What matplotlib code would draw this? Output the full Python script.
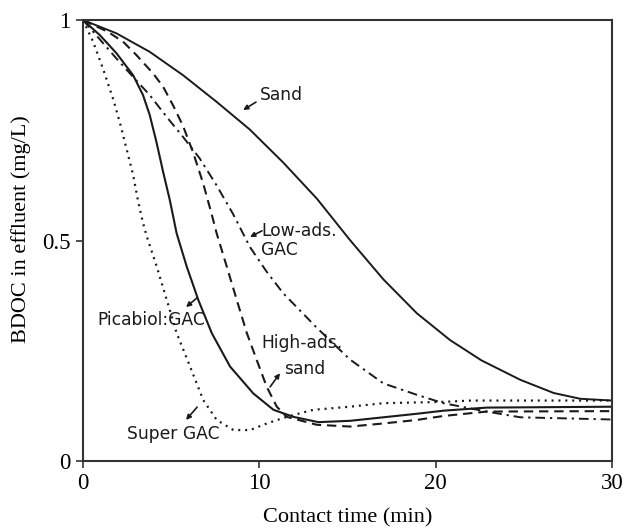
import matplotlib.pyplot as plt

# Contact time (min) and BDOC (mg/L) for each filter medium
sand_t = [0, 1.89, 3.78, 5.67, 7.56, 9.45, 11.35, 13.26, 15.14, 17.03, 18.93,
          20.82, 22.6, 24.8, 26.7, 28.2, 30]
sand_c = [1.0, 0.970, 0.928, 0.875, 0.815, 0.752, 0.677, 0.595, 0.501, 0.412, 0.335,
          0.274, 0.228, 0.184, 0.154, 0.141, 0.137]

low_gac_t = [0, 1.89, 2.84, 3.78, 4.73, 5.67, 6.62, 7.56, 8.51, 9.47, 10.4, 11.36,
             13.26, 15.14, 17.03, 18.93, 20.44, 22.9, 24.8, 30]
low_gac_c = [1.0, 0.913, 0.871, 0.830, 0.781, 0.735, 0.686, 0.626, 0.560, 0.485, 0.430, 0.380,
             0.302, 0.230, 0.176, 0.150, 0.131, 0.112, 0.099, 0.094]

high_sand_t = [0, 1.42, 2.27, 3.02, 3.97, 4.54, 5.10, 5.67, 6.24, 6.81, 7.28, 7.58, 8.15,
               8.72, 9.29, 9.85, 10.42, 10.99, 11.55, 13.26, 15.14, 17.03, 18.93, 20.44,
               22.9, 30]
high_sand_c = [1.0, 0.973, 0.951, 0.921, 0.879, 0.849, 0.807, 0.760, 0.700, 0.630, 0.562,
               0.516, 0.441, 0.365, 0.290, 0.229, 0.168, 0.123, 0.100, 0.082, 0.078, 0.085,
               0.093, 0.102, 0.112, 0.113]

picabiol_t = [0, 0.95, 1.89, 2.84, 3.40, 3.78, 4.16, 4.54, 4.92, 5.31, 5.88, 6.54, 7.3,
              8.34, 9.66, 10.8, 11.93, 13.35, 15.14, 17.03, 18.93, 20.44, 22.9, 30]
picabiol_c = [1.0, 0.966, 0.925, 0.875, 0.830, 0.785, 0.724, 0.656, 0.592, 0.516, 0.441,
              0.365, 0.290, 0.214, 0.153, 0.116, 0.100, 0.088, 0.091, 0.099, 0.107, 0.114,
              0.121, 0.123]

super_gac_t = [0, 0.57, 1.13, 1.70, 2.08, 2.46, 2.84, 3.12, 3.40, 3.61, 4.18, 4.75, 5.31,
               6.07, 6.82, 7.58, 8.53, 9.47, 10.42, 11.55, 13.06, 15.14, 17.03, 20.44, 22.0, 30]
super_gac_c = [1.0, 0.951, 0.890, 0.822, 0.769, 0.709, 0.649, 0.590, 0.540, 0.510, 0.441,
               0.365, 0.290, 0.214, 0.138, 0.093, 0.070, 0.070, 0.085, 0.100, 0.116, 0.123,
               0.131, 0.134, 0.137, 0.137]

x_ticks = [0, 10, 20, 30]
y_ticks = [0, 0.5, 1]
y_tick_labels = ['0', '0.5', '1']

fig = plt.figure(figsize=(6.29, 5.28), dpi=100)
ax = fig.add_axes([0.132, 0.127, 0.841, 0.835])

ink = '#1a1a1a'
ax.plot(sand_t, sand_c, color=ink, lw=1.4, ls='-')
ax.plot(low_gac_t, low_gac_c, color=ink, lw=1.4, ls=(0, (5, 2.5, 1.2, 2.5)))
ax.plot(high_sand_t, high_sand_c, color=ink, lw=1.5, ls=(0, (4.5, 2.8)))
ax.plot(picabiol_t, picabiol_c, color=ink, lw=1.5, ls='-')
ax.plot(super_gac_t, super_gac_c, color=ink, lw=1.6, ls=(0, (0.9, 2.2)))

ax.set_xlim(0, 30)
ax.set_ylim(0, 1)
ax.set_xticks(x_ticks)
ax.set_yticks(y_ticks)
ax.set_yticklabels(y_tick_labels)

serif = 'Liberation Serif'
for lab in ax.get_xticklabels() + ax.get_yticklabels():
    lab.set_fontfamily(serif)
    lab.set_fontsize(16.5)
ax.tick_params(direction='out', length=5, width=1.2, color='#333333', pad=4)
for sp in ax.spines.values():
    sp.set_linewidth(1.5)
    sp.set_color('#333333')

ax.set_xlabel('Contact time (min)', fontfamily=serif, fontsize=16, labelpad=10)
ax.set_ylabel('BDOC in effluent (mg/L)', fontfamily=serif, fontsize=16)
ax.yaxis.set_label_coords(-0.098, 0.526)

# curve labels with small pointer arrows
lab_kw = dict(fontsize=12.3, color=ink, fontfamily='DejaVu Sans')
arr = dict(arrowstyle='-|>', color=ink, lw=1.2, mutation_scale=7, shrinkA=0, shrinkB=0)

ax.text(10.04, 0.830, 'Sand', ha='left', va='center', **lab_kw)
ax.annotate('', xy=(9.08, 0.796), xytext=(9.81, 0.814), arrowprops=arr)

ax.text(10.1, 0.522, 'Low-ads.', ha='left', va='center', **lab_kw)
ax.text(10.1, 0.478, 'GAC', ha='left', va='center', **lab_kw)
ax.annotate('', xy=(9.47, 0.508), xytext=(10.15, 0.522), arrowprops=arr)

ax.text(0.79, 0.320, 'Picabiol:GAC', ha='left', va='center', **lab_kw)
ax.annotate('', xy=(5.84, 0.349), xytext=(6.47, 0.370), arrowprops=arr)

ax.text(10.1, 0.268, 'High-ads.', ha='left', va='center', **lab_kw)
ax.text(11.4, 0.208, 'sand', ha='left', va='center', **lab_kw)
ax.annotate('', xy=(11.17, 0.199), xytext=(10.61, 0.168), arrowprops=arr)

ax.text(2.5, 0.061, 'Super GAC', ha='left', va='center', **lab_kw)
ax.annotate('', xy=(5.84, 0.093), xytext=(6.47, 0.122), arrowprops=arr)

fig.savefig('out.png', dpi=100, facecolor='white')
